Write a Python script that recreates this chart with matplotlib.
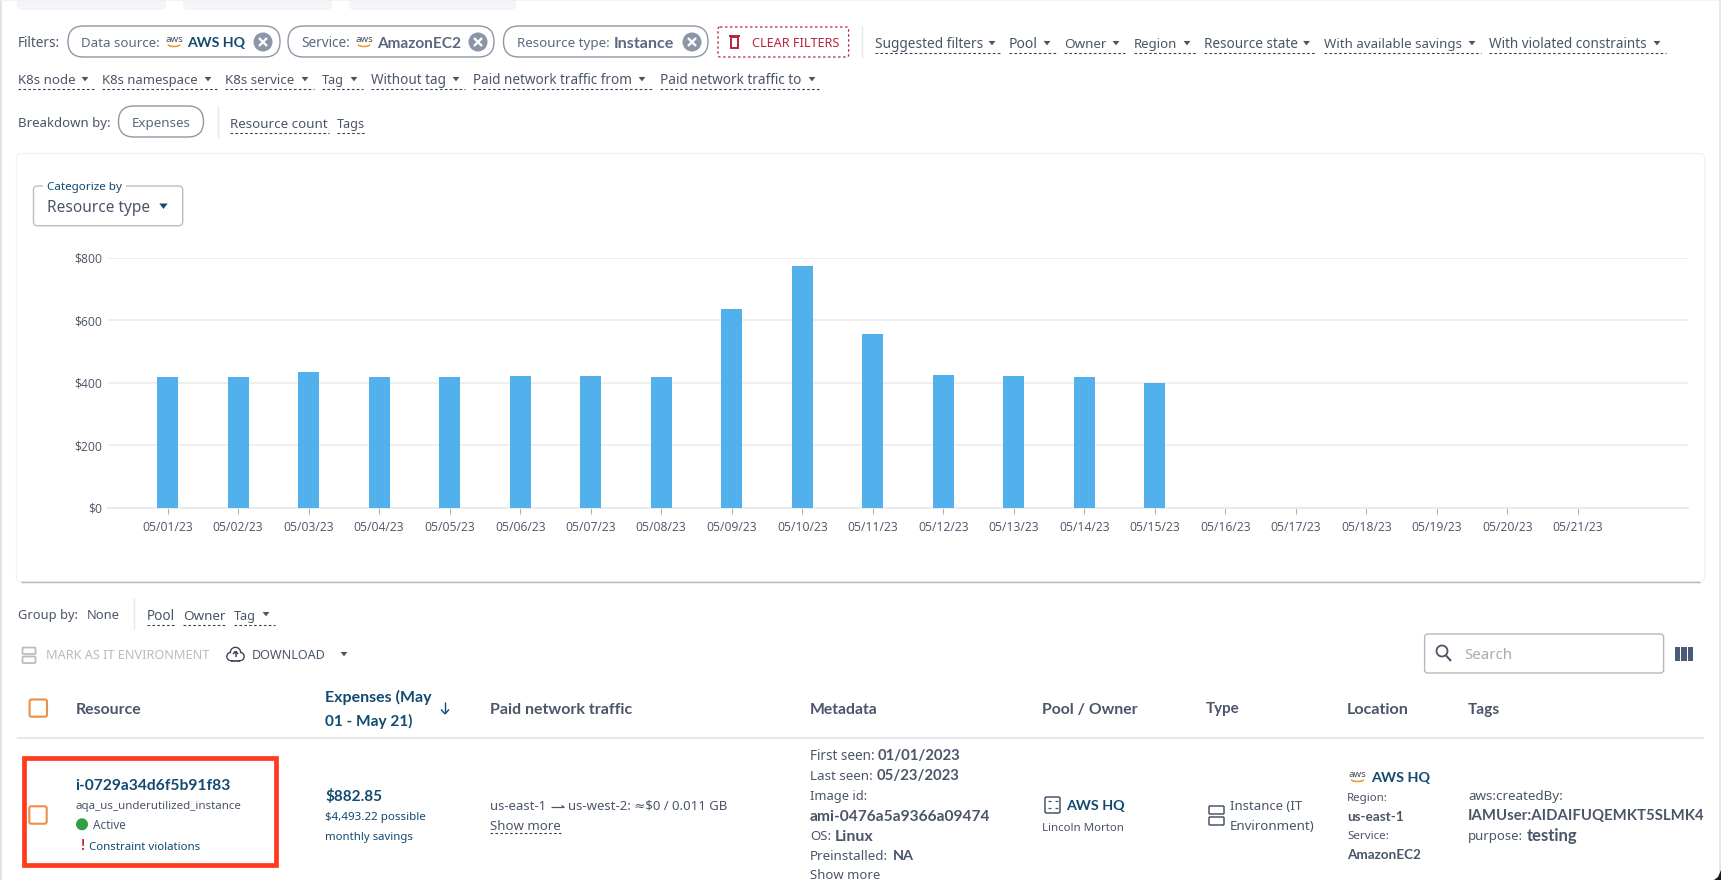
import matplotlib
matplotlib.use("Agg")
import matplotlib.pyplot as plt
from matplotlib.patches import FancyBboxPatch, Rectangle, Circle, Arc, Polygon

# ---- chart data ----
dates = ["05/01/23","05/02/23","05/03/23","05/04/23","05/05/23","05/06/23","05/07/23",
         "05/08/23","05/09/23","05/10/23","05/11/23","05/12/23","05/13/23","05/14/23",
         "05/15/23","05/16/23","05/17/23","05/18/23","05/19/23","05/20/23","05/21/23"]
expenses = [418, 418, 434, 418, 418, 421, 421, 418, 636, 773, 556, 424, 421, 418, 399]
y_ticks = [0, 200, 400, 600, 800]

FONT = ["Noto Sans", "DejaVu Sans"]
BOLD = ["Lato", "DejaVu Sans"]
SLATE = "#4b5568"
NAVY = "#124a70"
BORDER = "#8d97a8"
plt.rcParams["font.family"] = FONT

fig = plt.figure(figsize=(17.21, 8.8), dpi=100, facecolor="white")
bg = fig.add_axes([0, 0, 1, 1], zorder=0)
bg.set_xlim(0, 1721); bg.set_ylim(880, 0); bg.axis("off")
rend = fig.canvas.get_renderer()

def T(x0, x1, y, s, color=SLATE, weight="normal", base=14.0, ax=bg):
    fam = BOLD if weight == "bold" else FONT
    t = ax.text(x0, y, s, color=color, fontweight=weight, family=fam, va="baseline", ha="left",
                fontsize=base * 0.72)
    w = t.get_window_extent(rend).width
    px = base * (x1 - x0) / w
    t.set_fontsize(px * 0.72)
    t.set_y(y + 0.36 * px)
    return t

def rrect(x0, y0, x1, y1, r=6, fc="none", ec=BORDER, lw=1.0, ls="-", z=1):
    p = FancyBboxPatch((x0 + r, y0 + r), x1 - x0 - 2 * r, y1 - y0 - 2 * r,
                       boxstyle=f"round,pad={r},rounding_size={r}", fc=fc, ec=ec, lw=lw, ls=ls, zorder=z)
    bg.add_patch(p)
    return p

def line(x0, y0, x1, y1, color="#e6e8eb", lw=1.0, ls="-", z=2):
    bg.plot([x0, x1], [y0, y1], color=color, lw=lw, ls=ls, zorder=z, solid_capstyle="butt")

def under(x0, x1, y):
    line(x0, y, x1, y, color="#3c4454", lw=0.8, ls=(0, (2.4, 2.0)))

def arrow(x, y, color=SLATE, s=3.4):
    bg.add_patch(Polygon([(x - s, y - s * 0.6), (x + s, y - s * 0.6), (x, y + s * 0.7)], fc=color, ec="none", zorder=3))

def dd(x0, x1, ax_, ue, y, uy, s):
    T(x0, x1, y, s)
    arrow(ax_, y)
    under(x0, ue, uy)

def aws(x0, x1, y):
    c = (x0 + x1) / 2
    bg.text(c, y - 1.5, "aws", fontsize=7, color="#444c58", ha="center", va="center", zorder=3)
    bg.add_patch(Arc((c, y + 1), x1 - x0, 9, theta1=25, theta2=155, color="#f0952a", lw=1.1, zorder=3))

def xchip(x, y, r=9.5):
    bg.add_patch(Circle((x, y), r, fc="#8c96a6", ec="none", zorder=3))
    d = r * 0.42
    line(x - d, y - d, x + d, y + d, color="white", lw=1.7, z=4)
    line(x - d, y + d, x + d, y - d, color="white", lw=1.7, z=4)

def checkbox(x0, y0, x1, y1):
    rrect(x0, y0, x1, y1, r=2, ec="#ef8e45", lw=1.5, z=3)

# page chrome
line(0.7, 0, 0.7, 880, color="#e2e4e7", lw=1.4)
line(0, 0.5, 1721, 0.5, color="#eff1f3", lw=1.2)
for a, b in [(17, 166), (183, 332), (349, 516)]:
    rrect(a, -10, b, 10, r=5, fc="#f3f5f8", ec="none")
line(1720.3, 0, 1720.3, 872, color="#e2e4e7", lw=1.2)
bg.add_patch(Polygon([(1714, 880), (1718, 877), (1721, 870), (1721, 880)], fc="#1a1a1a", ec="none", zorder=5))

# filter row
T(17.5, 60, 42, "Filters:")
for a, b in [(68, 280), (288, 494), (503.5, 708)]:
    rrect(a, 26, b, 57, r=15.5, ec=BORDER, lw=1.0)
T(81, 160, 42, "Data source:", color="#5c6880")
aws(166, 182, 41)
T(187, 245, 42, "AWS HQ", color=NAVY, weight="bold")
xchip(263, 42)
T(301, 350, 42, "Service:", color="#5c6880")
aws(356, 372, 41)
T(377, 461, 42, "AmazonEC2", color="#5c6880", weight="bold")
xchip(478, 42)
T(517, 610, 42, "Resource type:", color="#5c6880")
T(614, 675, 42, "Instance", color="#5c6880", weight="bold")
xchip(692, 42)
rrect(718, 27, 848.6, 57, r=2, ec="#b8243c", lw=0.9, ls=(0, (2, 2)))
bg.add_patch(Rectangle((730.5, 37.5), 7.5, 10.5, fc="none", ec="#b8243c", lw=1.4, zorder=3))
line(729, 36, 739.5, 36, color="#b8243c", lw=1.4, z=3)
T(751.5, 839, 42, "CLEAR FILTERS", color="#b8243c")
line(862, 26, 862, 58, color="#e6e8eb")

for x0, x1, ax_, ue, s in [(875, 983.5, 992, 1001, "Suggested filters"), (1009, 1038, 1047, 1056, "Pool"),
                           (1064, 1106.5, 1116, 1125, "Owner"), (1133.5, 1177, 1187, 1196, "Region"),
                           (1204, 1298, 1306.5, 1316, "Resource state"),
                           (1324, 1462, 1472, 1481, "With available savings"),
                           (1489, 1647.5, 1657, 1666, "With violated constraints")]:
    dd(x0, x1, ax_, ue, 43, 53.3, s)
for x0, x1, ax_, ue, s in [(17.5, 75, 85, 94, "K8s node"), (102, 198, 208, 217, "K8s namespace"),
                           (225, 295, 305, 314, "K8s service"), (322, 344, 354, 363, "Tag"),
                           (371, 446, 456, 465, "Without tag"), (473, 632.5, 642, 652, "Paid network traffic from"),
                           (660, 802, 812, 821, "Paid network traffic to")]:
    dd(x0, x1, ax_, ue, 79, 89.3, s)

# breakdown row
T(17.5, 110, 122, "Breakdown by:")
rrect(118.5, 106, 203.5, 137, r=15.5, ec=BORDER)
T(131.6, 191, 122, "Expenses", color="#5c6880")
line(218, 106, 218, 138)
T(230, 328, 123, "Resource count")
under(230, 329, 133)
T(337, 365, 123, "Tags")
under(337, 366, 133)

# card
rrect(16.5, 153.5, 1704.6, 582, r=5, fc="white", ec="#f1f2f4", lw=1.0, z=0.5)
line(21, 581.8, 1700, 581.8, color="#b4b6ba", lw=1.0, z=0.6)
rrect(33.5, 186, 182.7, 225.7, r=4, ec="#b9bec6", lw=1.0)
bg.add_patch(Rectangle((43, 183), 83, 6, fc="white", ec="none", zorder=1.5))
T(47, 122, 186, "Categorize by", color=NAVY)
T(47, 150, 206.7, "Resource type")
arrow(163.5, 206, color=NAVY, s=4.2)

# chart
px_l, px_r, px_t, px_b = 108, 1688, 257.7, 507.7
ax = fig.add_axes([px_l / 1721, 1 - px_b / 880, (px_r - px_l) / 1721, (px_b - px_t) / 880], zorder=2)
ax.patch.set_alpha(0)
pos = list(range(len(dates)))
ax.bar(pos[:len(expenses)], expenses, width=0.298, color="#52b1ec", edgecolor="none", zorder=3)
ax.set_xlim(-0.845, 21.56)
ax.set_ylim(0, 800)
ax.set_yticks(y_ticks, [f"${v}" for v in y_ticks])
ax.set_xticks(pos, dates)
ax.grid(axis="y", color="#eeeeee", lw=1.3, zorder=1)
ax.set_axisbelow(True)
for s in ["top", "right", "left"]:
    ax.spines[s].set_visible(False)
ax.spines["bottom"].set_color("#e8e9eb"); ax.spines["bottom"].set_linewidth(1.3)
ax.tick_params(axis="y", length=0, pad=4, labelsize=8.7, labelcolor=SLATE)
ax.tick_params(axis="x", length=4, width=0.75, color="#aab0b9", pad=5.5, labelsize=8.7, labelcolor=SLATE)
for t in ax.get_xticklabels() + ax.get_yticklabels():
    t.set_family("Open Sans")
for t in ax.spines.values():
    t.set_zorder(2)

# group-by row
T(17.5, 77, 614, "Group by:")
T(87, 120, 614, "None")
line(134, 598, 134, 629)
T(146.5, 174.5, 615, "Pool"); under(146.5, 175, 625)
T(183, 225.5, 615, "Owner"); under(183, 226, 625)
T(234, 256, 615, "Tag"); arrow(266, 614); under(234, 275, 625)

# toolbar
for yy in (647.5, 656.5):
    rrect(22.5, yy, 35.5, yy + 6.5, r=1, ec="#b9bdc5", lw=1.3, z=3)
T(46, 209.5, 654.7, "MARK AS IT ENVIRONMENT", color="#b7bbc3")
# cloud-download icon
for cx, cy, r in [(231, 656.5, 4), (235.5, 652.5, 5), (240, 656.5, 4)]:
    bg.add_patch(Circle((cx, cy), r, fc="none", ec="#3c4454", lw=1.2, zorder=3))
    bg.add_patch(Circle((cx, cy), r - 0.6, fc="white", ec="none", zorder=3.2))
bg.add_patch(Rectangle((231, 654), 9, 6.5, fc="white", ec="none", zorder=3.3))
line(231, 660.6, 240, 660.6, color="#3c4454", lw=1.2, z=3.4)
line(235.5, 657.5, 235.5, 651.5, color="#3c4454", lw=1.1, z=3.4)
line(233, 654, 235.5, 651.2, color="#3c4454", lw=1.1, z=3.4)
line(238, 654, 235.5, 651.2, color="#3c4454", lw=1.1, z=3.4)
T(252, 326, 654.7, "DOWNLOAD")
arrow(344, 654)
rrect(1424.6, 634, 1663.6, 673, r=3, ec="#b4b9c1", lw=1.0)
bg.add_patch(Circle((1442, 651), 5.5, fc="none", ec="#4b5568", lw=1.3, zorder=3))
line(1446, 655.5, 1451, 661, color="#4b5568", lw=1.5)
T(1464, 1512, 654, "Search", color="#a6abb4")
for x in (1675, 1681.3, 1687.6):
    bg.add_patch(Rectangle((x, 647), 5.4, 14, fc="#4a5a78", ec="none", zorder=3))

# table header
checkbox(29.6, 699.5, 47, 716.7)
T(75.7, 141.5, 708, "Resource", weight="bold")
T(325, 432, 696, "Expenses (May", color=NAVY, weight="bold")
T(325, 412.5, 720, "01 - May 21)", color=NAVY, weight="bold")
line(445, 702, 445, 713.5, color=NAVY, lw=1.0)
line(441, 709.5, 445, 714, color=NAVY, lw=1.0)
line(449, 709.5, 445, 714, color=NAVY, lw=1.0)
for x0, x1, s in [(490, 633.6, "Paid network traffic"), (810, 878, "Metadata"), (1041.7, 1137, "Pool / Owner"),
                  (1206, 1240, "Type"), (1347, 1409.6, "Location"), (1468, 1500, "Tags")]:
    T(x0, x1, 708, s, weight="bold")
line(17, 738.3, 1704, 738.3, color="#e0e2e5", lw=1.1)

# resource cell
bg.add_patch(Rectangle((24.3, 758.3), 251.4, 107.1, fc="none", ec="#ff3b1f", lw=3.4, zorder=4))
checkbox(29.3, 806.3, 46.7, 823.7)
T(75.3, 230.7, 784, "i-0729a34d6f5b91f83", color=NAVY, weight="bold")
T(75.3, 242, 804.7, "aqa_us_underutilized_instance")
bg.add_patch(Circle((82, 824.3), 6, fc="#2f9e44", ec="none", zorder=3))
T(93, 126, 824.7, "Active")
bg.text(82, 845.7, "!", color="#c3202f", fontweight="bold", family=BOLD, fontsize=10.5, ha="center", va="center", zorder=3)
T(89.3, 201.3, 845.7, "Constraint violations", color=NAVY)

# expenses cell
T(325, 382, 795, "$882.85", color=NAVY, weight="bold")
T(325, 425.7, 815.7, "$4,493.22 possible", color=NAVY)
T(325, 412.5, 835.7, "monthly savings", color=NAVY)

# traffic cell
T(490, 546, 805, "us-east-1")
line(551, 807, 564, 807, color=SLATE, lw=0.9)
line(561.5, 805.5, 564, 807, color=SLATE, lw=0.9)
T(568, 727, 805, "us-west-2: ≈$0 / 0.011 GB")
T(490, 560.6, 825, "Show more")
under(490, 561, 833.3)

# metadata cell
T(810, 875, 755, "First seen:"); T(878, 961, 755, "01/01/2023", weight="bold")
T(810, 873, 775, "Last seen:"); T(876.6, 959.5, 775, "05/23/2023", weight="bold")
T(810, 867, 795, "Image id:")
T(810, 990, 815, "ami-0476a5a9366a09474", weight="bold")
T(810, 831, 835, "OS:"); T(834.6, 873.6, 835, "Linux", weight="bold")
T(810, 889, 855, "Preinstalled:"); T(893, 914, 855, "NA", weight="bold")
T(810, 880, 874, "Show more")

# pool / owner cell
rrect(1045, 797, 1060, 813, r=1.5, ec="#4b5568", lw=1.1, z=3)
for xx, yy in [(1049, 801.5), (1056, 801.5), (1049, 808.5), (1056, 808.5)]:
    line(xx - 1.5, yy, xx + 1.5, yy, color="#4b5568", lw=0.9)
T(1065.7, 1124, 805, "AWS HQ", color=NAVY, weight="bold")
T(1041.7, 1124, 826.7, "Lincoln Morton")

# type cell
for yy in (806, 817):
    rrect(1209, yy, 1224, yy + 8, r=1, ec="#4b5568", lw=1.1, z=3)
T(1229.6, 1301.6, 805, "Instance (IT")
T(1229.6, 1315, 825, "Environment)")

# location cell
aws(1349, 1366, 776)
T(1370.6, 1429.5, 777, "AWS HQ", color=NAVY, weight="bold")
T(1347, 1388, 796.7, "Region:")
T(1347, 1404, 815.7, "us-east-1", weight="bold")
T(1347, 1389, 834.7, "Service:")
T(1347, 1420.5, 853.7, "AmazonEC2", weight="bold")

# tags cell
T(1468, 1563, 795, "aws:createdBy:")
T(1468, 1703, 815, "IAMUser:AIDAIFUQEMKT5SLMK4", weight="bold")
T(1468, 1523, 835, "purpose:")
T(1526.7, 1578, 835, "testing", weight="bold")

fig.savefig("out.png", dpi=100)
